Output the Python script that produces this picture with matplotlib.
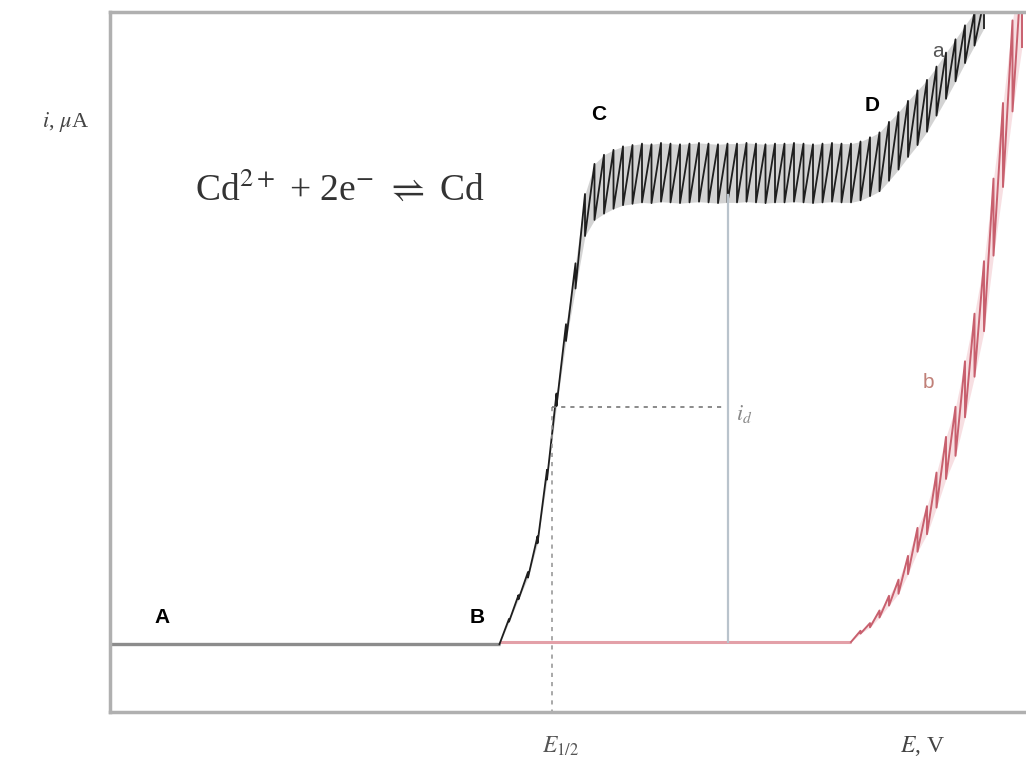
import matplotlib
matplotlib.use("Agg")
import matplotlib.pyplot as plt

# polarogram of Cd2+ (a) and supporting electrolyte only (b)
# E in arbitrary units (one unit = one drop time), i in arbitrary units

# curve a: flat residual current up to B, then the wave
a_base_E = [0, 41]
a_base_i = [9.7, 9.7]
a_drop_E = list(range(41, 93))
a_hi = [9.7, 13.3, 16.7, 20.0, 25.1, 34.6, 45.5, 55.4, 64.1, 74.0,
        78.3, 79.6, 80.3, 80.8, 81.0, 81.2, 81.1, 81.3, 81.2, 81.1,
        81.2, 81.3, 81.2, 81.1, 81.2, 81.2, 81.3, 81.2, 81.1, 81.2,
        81.2, 81.3, 81.2, 81.1, 81.2, 81.3, 81.2, 81.2, 81.5, 82.1,
        82.8, 84.3, 85.7, 87.3, 88.8, 90.3, 92.2, 94.2, 96.1, 98.1,
        100.0, 101.7]
a_lo = [9.7, 12.9, 16.1, 19.2, 24.1, 33.2, 43.7, 53.0, 60.5, 68.0,
        70.3, 71.2, 71.9, 72.4, 72.6, 72.8, 72.7, 72.9, 72.8, 72.7,
        72.8, 72.9, 72.8, 72.7, 72.8, 72.8, 72.9, 72.8, 72.7, 72.8,
        72.8, 72.9, 72.8, 72.7, 72.8, 72.9, 72.8, 72.8, 73.1, 73.7,
        74.4, 75.9, 77.5, 79.3, 81.0, 82.9, 85.2, 87.6, 90.1, 92.7,
        95.2, 97.7]

# curve b: background only
b_base_E = [41, 78]
b_base_i = [10.0, 10.0]
b_drop_E = list(range(78, 97))
b_hi = [10.0, 11.6, 12.7, 14.5, 16.6, 18.9, 22.3, 26.3, 29.4, 34.2,
        39.3, 43.6, 50.1, 56.9, 64.4, 76.2, 87.0, 98.8, 107.0]
b_lo = [10.0, 11.2, 12.1, 13.5, 15.2, 16.9, 19.7, 22.9, 25.4, 29.2,
        33.3, 36.6, 42.1, 47.9, 54.4, 65.2, 75.0, 85.8, 95.0]

E_half = 46.5
i_half = 43.6
E_id = 65.0
i_plateau_low = 73.9


def sawtooth(E, hi, lo):
    xs, ys = [E[0]], [lo[0]]
    for k in range(1, len(E)):
        xs += [E[k], E[k]]
        ys += [hi[k], lo[k]]
    return xs, ys


plt.rcParams['mathtext.fontset'] = 'stix'

fig = plt.figure(figsize=(10.26, 7.65), dpi=100)
ax = fig.add_axes([110 / 1026, 53 / 765, 916 / 1026, 700 / 765])
ax.set_xlim(0, 916 / 9.5)
ax.set_ylim(0, 100)

# curve b (red)
ax.plot(b_base_E, b_base_i, color='#e3a0a8', lw=2.2, solid_capstyle='butt')
ax.fill_between(b_drop_E, b_lo, b_hi, color='#f0c0c6', alpha=0.5, lw=0)
bx, by = sawtooth(b_drop_E, b_hi, b_lo)
ax.plot(bx, by, color='#c8606e', lw=1.4)

# curve a (black)
ax.plot(a_base_E, a_base_i, color='#8c8c8c', lw=2.4, solid_capstyle='butt')
ax.fill_between(a_drop_E, a_lo, a_hi, color='#b0b0b0', alpha=0.55, lw=0)
ax_, ay = sawtooth(a_drop_E, a_hi, a_lo)
ax.plot(ax_, ay, color='#1e1e1e', lw=1.3)

# half-wave construction
ax.plot([E_half, E_half], [i_half, 0], ls=(0, (2.5, 3)), color='#999999', lw=1.2)
ax.plot([E_half, E_id - 0.3], [i_half, i_half], ls=(0, (2.5, 3)), color='#777777', lw=1.2)
ax.plot([E_id, E_id], [b_base_i[0], i_plateau_low], color='#b9c3cc', lw=1.6)

# labels
sans = 'Liberation Sans'
serif = 'Liberation Serif'
ax.text(5.5, 13.5, 'A', fontsize=15, family=sans, weight='bold', ha='center', va='center')
ax.text(38.7, 13.5, 'B', fontsize=15, family=sans, weight='bold', ha='center', va='center')
ax.text(51.4, 85.3, 'C', fontsize=15, family=sans, weight='bold', ha='center', va='center')
ax.text(80.2, 86.7, 'D', fontsize=15, family=sans, weight='bold', ha='center', va='center')
ax.text(87.2, 94.3, 'a', fontsize=15, family=sans, color='#555555', ha='center', va='center')
ax.text(86.1, 47.0, 'b', fontsize=15, family=sans, color='#c08078', ha='center', va='center')
ax.text(66.8, 42.6, r'$i_d$', fontsize=16, color='#888888', ha='center', va='center')

ax.text(24.2, 74.6, r'Cd$^{2+}$ + 2e$^{-}$ $\rightleftharpoons$ Cd', fontsize=27,
        family=serif, color='#333333', ha='center', va='center')
ax.text(-4.7, 84.3, r'$i$, $\mu$A', fontsize=16, family=serif, color='#444444',
        ha='center', va='center', clip_on=False)
ax.text(47.4, -4.8, r'$E_{1/2}$', fontsize=17, color='#555555',
        ha='center', va='center', clip_on=False)
ax.text(85.5, -4.8, r'$E$, V', fontsize=17, family=serif, color='#444444',
        ha='center', va='center', clip_on=False)

for s in ['left', 'top', 'bottom']:
    ax.spines[s].set_color('#b0b0b0')
    ax.spines[s].set_linewidth(2.5)
ax.spines['right'].set_visible(False)
ax.set_xticks([])
ax.set_yticks([])

fig.savefig('out.png', dpi=100)
